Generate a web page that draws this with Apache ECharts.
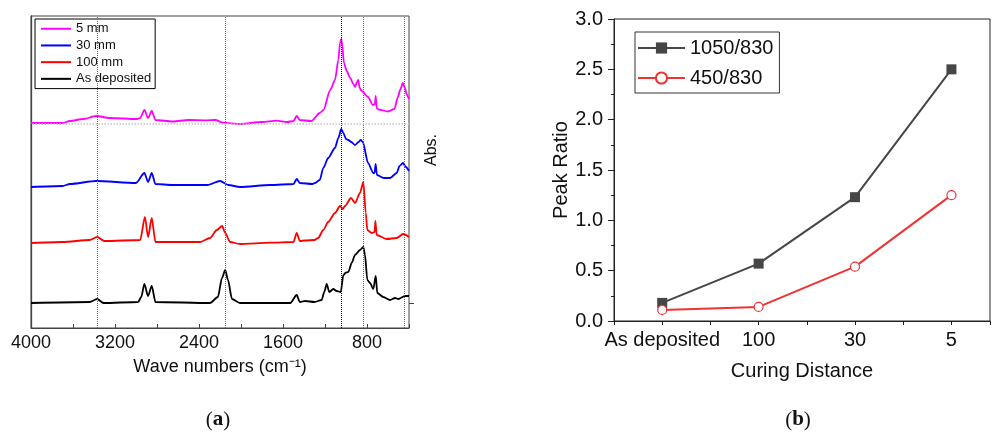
<!DOCTYPE html>
<html>
<head>
<meta charset="utf-8">
<script src="https://cdn.jsdelivr.net/npm/echarts@6/dist/echarts.min.js"></script>
<style>
  html, body { margin: 0; padding: 0; background: #fff; }
  #main { width: 993px; height: 433px; }
</style>
</head>
<body>
<div id="main"></div>
<script>
// (a) FTIR spectra, [wavenumber, absorbance (a.u., offset)]
var spec5mm = [
  [4000, 2.05], [3700, 2.05], [3630, 2.07], [3500, 2.09], [3380, 2.12], [3250, 2.10],
  [2990, 2.09], [2960, 2.10], [2920, 2.18], [2885, 2.10], [2850, 2.17], [2815, 2.08],
  [2650, 2.065], [2500, 2.08], [2330, 2.077], [2245, 2.08], [2170, 2.053], [2010, 2.04],
  [1800, 2.06], [1660, 2.073], [1560, 2.06], [1500, 2.07], [1470, 2.12], [1440, 2.08],
  [1330, 2.07], [1250, 2.15], [1215, 2.18], [1150, 2.38], [1105, 2.48], [1073, 2.68],
  [1057, 2.85], [1045, 2.89], [1035, 2.82], [1020, 2.65], [993, 2.57], [960, 2.50],
  [930, 2.44], [914, 2.41], [895, 2.46], [883, 2.48], [870, 2.40], [850, 2.37],
  [790, 2.31], [745, 2.23], [725, 2.24], [717, 2.32], [708, 2.20], [690, 2.185],
  [600, 2.165], [540, 2.19], [505, 2.31], [485, 2.38], [458, 2.45], [440, 2.40],
  [420, 2.33], [400, 2.29]
];
var spec30mm = [
  [4000, 1.41], [3700, 1.42], [3630, 1.44], [3380, 1.47], [3000, 1.45], [2920, 1.55],
  [2885, 1.46], [2850, 1.55], [2815, 1.44], [2650, 1.43], [2320, 1.43], [2200, 1.47],
  [2120, 1.43], [2010, 1.41], [1720, 1.43], [1500, 1.44], [1470, 1.49], [1440, 1.45],
  [1320, 1.44], [1295, 1.45], [1250, 1.48], [1216, 1.60], [1170, 1.70], [1105, 1.80],
  [1073, 1.90], [1045, 1.99], [1025, 1.95], [1000, 1.89], [978, 1.88], [950, 1.86],
  [914, 1.83], [880, 1.86], [860, 1.88], [840, 1.86], [790, 1.65], [740, 1.55],
  [728, 1.55], [718, 1.64], [705, 1.53], [640, 1.50], [581, 1.50], [517, 1.55],
  [490, 1.62], [458, 1.65], [430, 1.61], [400, 1.57]
];
var spec100mm = [
  [4000, 0.85], [3700, 0.86], [3440, 0.88], [3370, 0.91], [3300, 0.87], [2960, 0.88],
  [2915, 1.11], [2885, 0.91], [2850, 1.10], [2815, 0.86], [2390, 0.86], [2295, 0.90],
  [2230, 0.98], [2180, 1.02], [2150, 0.95], [2105, 0.86], [2010, 0.84], [1720, 0.853],
  [1500, 0.86], [1470, 0.95], [1440, 0.87], [1390, 0.875], [1300, 0.88], [1265, 0.90],
  [1216, 0.98], [1170, 1.06], [1105, 1.15], [1057, 1.22], [1031, 1.19], [1010, 1.22],
  [952, 1.30], [914, 1.25], [867, 1.35], [835, 1.46], [812, 1.15], [797, 0.98],
  [755, 0.95], [728, 0.96], [720, 1.07], [708, 0.93], [613, 0.89], [517, 0.90],
  [455, 0.94], [400, 0.91]
];
var specAsDep = [
  [4000, 0.25], [3440, 0.26], [3370, 0.29], [3310, 0.25], [2980, 0.26], [2950, 0.31],
  [2920, 0.44], [2886, 0.32], [2850, 0.42], [2815, 0.26], [2295, 0.25], [2220, 0.31],
  [2181, 0.50], [2150, 0.58], [2124, 0.48], [2086, 0.29], [2010, 0.25], [1530, 0.25],
  [1470, 0.33], [1440, 0.26], [1390, 0.27], [1300, 0.26], [1232, 0.28], [1207, 0.36],
  [1184, 0.44], [1159, 0.36], [1121, 0.39], [1089, 0.37], [1050, 0.36], [1025, 0.53],
  [1003, 0.553], [978, 0.56], [946, 0.65], [914, 0.73], [867, 0.78], [835, 0.81],
  [819, 0.73], [797, 0.48], [771, 0.45], [740, 0.39], [717, 0.52], [702, 0.35],
  [645, 0.31], [581, 0.28], [533, 0.30], [502, 0.29], [438, 0.32], [400, 0.32]
];
var peakLines = [3370, 2150, 1050, 835, 450];
var baseline5mm = 2.04;

// (b) peak ratios
var curingDistance = ['As deposited', '100', '30', '5'];
var ratio1050 = [0.18, 0.57, 1.23, 2.50];
var ratio450 = [0.11, 0.14, 0.54, 1.25];

var font = '"Liberation Sans", Arial, sans-serif';
var myChart = echarts.init(document.getElementById('main'));

function spectrum(name, data, color) {
  return {
    name: name, type: 'line', xAxisIndex: 0, yAxisIndex: 0,
    data: data, symbol: 'none', smooth: 0.25, smoothMonotone: 'x',
    lineStyle: { color: color, width: 1.8 }, itemStyle: { color: color },
    animation: false, z: 3
  };
}

var blackSeries = spectrum('As deposited', specAsDep, '#000000');
blackSeries.markLine = {
  silent: true, symbol: 'none', label: { show: false }, animation: false,
  data: peakLines.map(function (w) {
    return { xAxis: w, lineStyle: { color: w === 1050 ? '#111' : '#666', type: 'dotted', width: 1 } };
  }).concat([{ yAxis: baseline5mm, lineStyle: { color: '#c8c8c8', type: 'dotted', width: 1.5 } }])
};

var option = {
  backgroundColor: '#fff',
  textStyle: { fontFamily: font },
  grid: [
    { left: 31, top: 16, width: 378, height: 312, show: true, borderColor: '#444', borderWidth: 1 },
    { left: 614, top: 19, right: 1, height: 302, show: true, borderColor: '#222', borderWidth: 1 }
  ],
  legend: [
    {
      data: ['5 mm', '30 mm', '100 mm', 'As deposited'],
      orient: 'vertical', left: 35, top: 19,
      icon: 'rect', itemWidth: 30, itemHeight: 2, itemGap: 3.2,
      padding: [3, 4, 3, 6],
      borderColor: '#000', borderWidth: 1,
      textStyle: { fontSize: 13, color: '#111', fontFamily: font, lineHeight: 13.5 }
    },
    {
      data: ['1050/830', '450/830'],
      orient: 'vertical', left: 635, top: 32,
      itemWidth: 47, itemHeight: 14, itemGap: 10,
      padding: [6, 6, 5, 2],
      borderColor: '#333', borderWidth: 1,
      textStyle: { fontSize: 20, color: '#111', fontFamily: font }
    }
  ],
  xAxis: [
    {
      gridIndex: 0, type: 'value', min: 400, max: 4000, interval: 400, inverse: true,
      name: 'Wave numbers (cm\u207B\u00B9)', nameLocation: 'middle', nameGap: 30,
      nameTextStyle: { fontSize: 18, color: '#111' },
      axisLine: { lineStyle: { color: '#444', width: 1 } },
      axisTick: { inside: true, length: 4, lineStyle: { color: '#444' } },
      axisLabel: {
        fontSize: 18, color: '#111', margin: 6,
        formatter: function (v) { return v % 800 === 0 ? String(v) : ''; }
      },
      splitLine: { show: false }
    },
    {
      gridIndex: 1, type: 'value', min: 0.5, max: 4.4, interval: 0.5,
      name: 'Curing Distance', nameLocation: 'middle', nameGap: 40,
      nameTextStyle: { fontSize: 20, color: '#111' },
      axisLine: { lineStyle: { color: '#222', width: 1 } },
      axisTick: { inside: false, length: 4, lineStyle: { color: '#222' } },
      axisLabel: {
        fontSize: 20, color: '#111', margin: 9,
        formatter: function (v) { return Number.isInteger(v) && v >= 1 && v <= curingDistance.length ? curingDistance[v - 1] : ''; }
      },
      splitLine: { show: false }
    }
  ],
  yAxis: [
    {
      gridIndex: 0, type: 'value', min: 0, max: 3.12,
      axisLine: { show: true, lineStyle: { color: '#444', width: 1.3 } },
      axisTick: { show: false }, axisLabel: { show: false }, splitLine: { show: false }
    },
    {
      gridIndex: 0, type: 'value', min: 0, max: 3.12, position: 'right',
      axisLine: { show: false },
      axisTick: { show: true, inside: false, length: 5, customValues: [0.25], lineStyle: { color: '#444' } },
      axisLabel: { show: false }, splitLine: { show: false }
    },
    {
      gridIndex: 1, type: 'value', min: 0, max: 3, interval: 0.5,
      name: 'Peak Ratio', nameLocation: 'middle', nameGap: 43,
      nameTextStyle: { fontSize: 20, color: '#111' },
      axisLine: { show: true, lineStyle: { color: '#222', width: 1 } },
      axisTick: { show: true, inside: false, length: 6, lineStyle: { color: '#222' } },
      minorTick: { show: true, splitNumber: 2, length: 3, lineStyle: { color: '#222' } },
      axisLabel: { fontSize: 20, color: '#111', margin: 11, formatter: function (v) { return v.toFixed(1); } },
      splitLine: { show: false }
    }
  ],
  series: [
    blackSeries,
    spectrum('100 mm', spec100mm, '#ff0000'),
    spectrum('30 mm', spec30mm, '#0000ff'),
    spectrum('5 mm', spec5mm, '#ff00ff'),
    {
      name: '1050/830', type: 'line', xAxisIndex: 1, yAxisIndex: 2,
      data: ratio1050.map(function (v, i) { return [i + 1, v]; }),
      symbol: 'rect', symbolSize: 10,
      lineStyle: { color: '#464646', width: 2 }, itemStyle: { color: '#464646' },
      animation: false
    },
    {
      name: '450/830', type: 'line', xAxisIndex: 1, yAxisIndex: 2,
      data: ratio450.map(function (v, i) { return [i + 1, v]; }),
      symbol: 'circle', symbolSize: 9,
      lineStyle: { color: '#ee3333', width: 2 },
      itemStyle: { color: '#fff', borderColor: '#ee3333', borderWidth: 1.2 },
      animation: false
    }
  ],
  graphic: [
    {
      type: 'text', x: 432, y: 150, rotation: Math.PI / 2,
      style: { text: 'Abs.', font: '16px ' + font, align: 'center', verticalAlign: 'middle', fill: '#111' }
    },
    {
      type: 'text', x: 218, y: 420,
      style: {
        text: '{p|(}{b|a}{p|)}', align: 'center', verticalAlign: 'middle',
        rich: {
          p: { fontFamily: '"Liberation Serif", serif', fontSize: 21, fill: '#111' },
          b: { fontFamily: '"Liberation Serif", serif', fontSize: 21, fontWeight: 'bold', fill: '#111' }
        }
      }
    },
    {
      type: 'text', x: 798, y: 420,
      style: {
        text: '{p|(}{b|b}{p|)}', align: 'center', verticalAlign: 'middle',
        rich: {
          p: { fontFamily: '"Liberation Serif", serif', fontSize: 21, fill: '#111' },
          b: { fontFamily: '"Liberation Serif", serif', fontSize: 21, fontWeight: 'bold', fill: '#111' }
        }
      }
    }
  ]
};

myChart.setOption(option);
</script>
</body>
</html>
